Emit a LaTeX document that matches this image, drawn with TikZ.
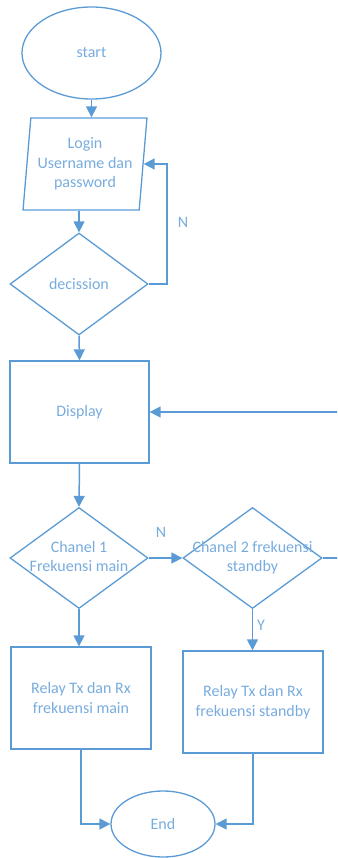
\documentclass[tikz,border=0pt]{standalone}
\usepackage{fontspec}
\setmainfont{Carlito}
\usetikzlibrary{shapes.geometric,arrows.meta}
\definecolor{fc}{RGB}{91,155,213}
\definecolor{tc}{RGB}{120,172,222}
\tikzset{
  base/.style={draw=fc, line width=1.3pt, text=tc, inner sep=0pt, font=\fontsize{16}{19.5}\selectfont, align=center},
  oval/.style={base, ellipse},
  box/.style={base, rectangle},
  dia/.style={base, diamond, aspect=1.35},
  para/.style={base, trapezium, trapezium left angle=82.6, trapezium right angle=97.4, trapezium stretches=true},
  arr/.style={draw=fc, line width=1.5pt, -{Triangle[length=11pt,width=11pt]}},
  lbl/.style={text=tc, font=\fontsize{16}{18}\selectfont, inner sep=0pt}
}
\begin{document}
\begin{tikzpicture}[x=1pt,y=-1pt]
\useasboundingbox (0,0) rectangle (337,858);
\clip (0,0) rectangle (337,858);
\node[oval, minimum width=139, minimum height=92] (start) at (91.5,53) {start};
\node[para, minimum width=124, minimum height=92] (login) at (85,164) {Login\\Username dan\\password};
\node[dia, minimum width=138, minimum height=102] (dec) at (79,284) {\makebox[0pt]{decission}};
\node[box, minimum width=139, minimum height=102] (disp) at (79.5,412) {Display};
\node[dia, minimum width=138, minimum height=101] (ch1) at (79,558) {\makebox[0pt]{\begin{tabular}{@{}c@{}}Chanel 1\\Frekuensi main\end{tabular}}};
\node[dia, minimum width=139, minimum height=101] (ch2) at (252.5,558) {\makebox[0pt]{\begin{tabular}{@{}c@{}}Chanel 2 frekuensi\\standby\end{tabular}}};
\node[box, minimum width=140, minimum height=102] (r1) at (81,698) {Relay Tx dan Rx\\frekuensi main};
\node[box, minimum width=140, minimum height=102] (r2) at (253,702) {Relay Tx dan Rx\\frekuensi standby};
\node[oval, minimum width=104, minimum height=66] (end) at (163,824) {End};
\coordinate (loopc) at (167,284);
\coordinate (fbc) at (350,558);
\node[lbl] (n1) at (183,222) {N};
\node[lbl] (n2) at (161,532) {N};
\node[lbl] (y1) at (261,625) {Y};
\draw[arr] (start.south) -- (start.south |- login.north);
\draw[arr] (dec.north |- login.south) -- (dec.north);
\draw[arr] (dec.east) -- (loopc) |- (login.east);
\draw[arr] (dec.south) -- (disp.north);
\draw[arr] (disp.south) -- (ch1.north);
\draw[arr] (ch1.east) -- (ch2.west);
\draw[arr] (ch2.east) -- (fbc) |- (disp.east);
\draw[arr] (ch1.south) -- (ch1.south |- r1.north);
\draw[arr] (ch2.south) -- (ch2.south |- r2.north);
\draw[arr] (r1.south) |- (end.west);
\draw[arr] (r2.south) |- (end.east);
\end{tikzpicture}
\end{document}
